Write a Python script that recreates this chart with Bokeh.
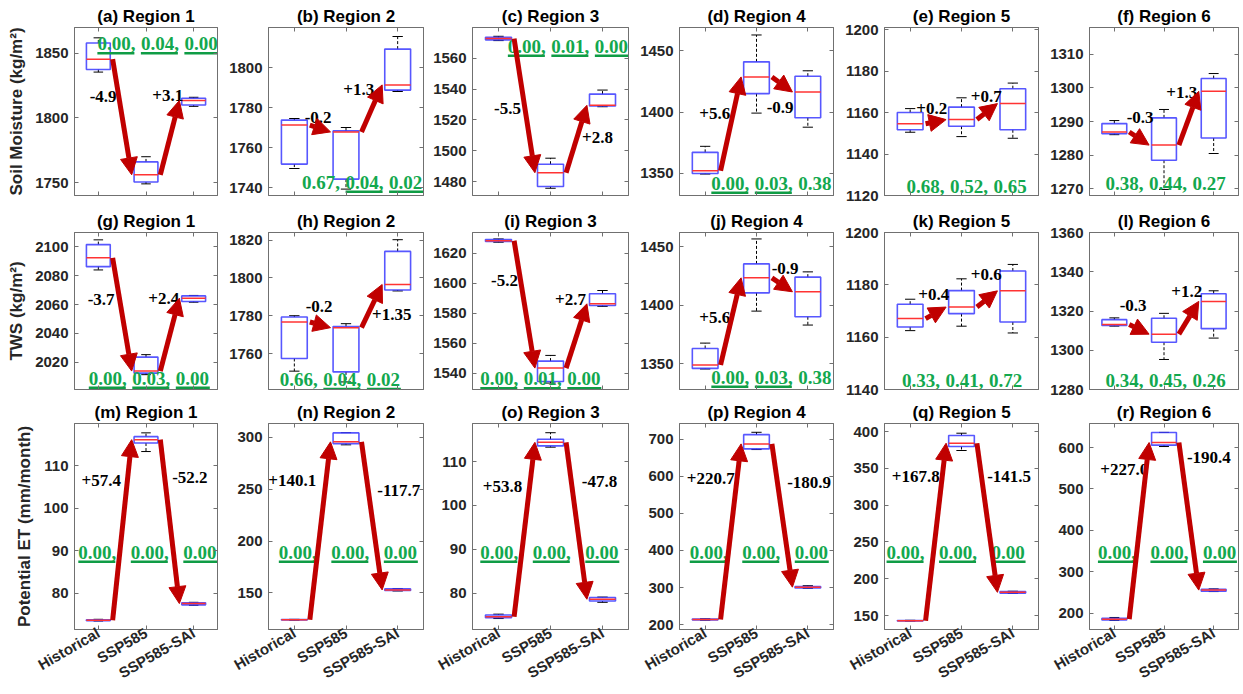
import math
from bokeh.plotting import figure
from bokeh.layouts import column, row
from bokeh.models import (ColumnDataSource, Arrow, NormalHead, FixedTicker,
                          LinearAxis, Range1d)
from bokeh.core.properties import value
from bokeh.embed import file_html
from bokeh.resources import INLINE

# ---------------- data ----------------
scenarios = ["Historical", "SSP585", "SSP585-SAI"]
regions = ["Region 1", "Region 2", "Region 3", "Region 4", "Region 5", "Region 6"]
variables = ["Soil Moisture (kg/m\u00b2)", "TWS (kg/m\u00b2)", "Potential ET (mm/month)"]

# box stats per region: [whisker low, q1, median, q3, whisker high] per scenario
sm_stats = [
    [[1835.5, 1837.5, 1845.5, 1858.0, 1862.0], [1749.0, 1750.5, 1756.0, 1766.0, 1770.0], [1809.0, 1810.0, 1813.5, 1815.3, 1816.0]],
    [[1749.5, 1751.7, 1771.2, 1773.7, 1774.5], [1739.2, 1744.2, 1767.8, 1768.3, 1770.0], [1788.0, 1788.7, 1791.3, 1809.2, 1815.5]],
    [[1571.5, 1572.0, 1572.8, 1573.6, 1574.3], [1475.7, 1476.8, 1485.8, 1491.3, 1495.2], [1528.6, 1529.1, 1529.5, 1536.8, 1539.4]],
    [[1349.5, 1350.0, 1352.2, 1367.2, 1372.1], [1399.2, 1415.1, 1428.7, 1441.0, 1462.9], [1387.7, 1395.4, 1416.4, 1429.3, 1433.7]],
    [[1150.5, 1151.7, 1154.6, 1160.0, 1161.9], [1148.4, 1153.4, 1156.6, 1162.6, 1167.1], [1147.6, 1151.7, 1164.3, 1171.5, 1174.2]],
    [[1286.1, 1286.4, 1286.9, 1289.4, 1290.3], [1269.8, 1278.5, 1283.0, 1291.1, 1293.6], [1280.5, 1285.1, 1299.0, 1302.8, 1304.3]],
]
tws_stats = [
    [[2084.0, 2086.3, 2092.4, 2101.6, 2104.9], [2011.3, 2012.4, 2013.8, 2023.5, 2025.2], [2061.6, 2062.1, 2064.4, 2066.0, 2066.3]],
    [[1750.7, 1757.4, 1776.7, 1779.3, 1780.0], [1745.0, 1750.3, 1773.7, 1774.3, 1775.8], [1793.1, 1793.6, 1796.5, 1814.0, 1820.2]],
    [[1627.5, 1628.0, 1628.5, 1629.3, 1629.7], [1533.3, 1534.4, 1543.3, 1548.0, 1551.8], [1584.6, 1585.2, 1586.3, 1593.0, 1595.2]],
    [[1345.5, 1346.0, 1348.9, 1363.0, 1367.6], [1394.9, 1410.5, 1423.3, 1435.2, 1456.5], [1383.0, 1390.1, 1411.4, 1423.9, 1428.4]],
    [[1162.5, 1163.9, 1167.1, 1172.6, 1174.5], [1164.2, 1169.0, 1171.5, 1177.8, 1182.3], [1161.6, 1165.8, 1177.7, 1185.3, 1187.8]],
    [[1312.3, 1312.6, 1313.1, 1315.6, 1316.5], [1295.3, 1304.1, 1308.2, 1316.3, 1318.8], [1306.2, 1311.0, 1324.9, 1328.8, 1330.3]],
]
pet_stats = [
    [[73.5, 73.6, 73.7, 73.8, 73.9], [113.4, 115.4, 116.2, 116.9, 117.8], [77.2, 77.3, 77.6, 77.8, 77.9]],
    [[123.6, 123.8, 124.0, 124.2, 124.4], [292.9, 294.1, 295.8, 304.4, 304.7], [151.8, 152.3, 152.8, 153.8, 154.2]],
    [[74.2, 74.4, 74.6, 75.0, 75.2], [113.3, 113.6, 114.4, 115.1, 116.6], [77.9, 78.2, 78.6, 79.0, 79.1]],
    [[212.0, 213.0, 214.0, 215.0, 216.0], [671.8, 673.7, 687.1, 712.0, 718.3], [298.0, 299.0, 301.0, 303.0, 305.0]],
    [[142.5, 142.7, 143.0, 143.3, 143.5], [374.3, 379.7, 384.2, 394.7, 397.8], [180.0, 180.5, 181.5, 182.5, 183.0]],
    [[183.0, 184.0, 186.0, 188.0, 190.0], [602.4, 605.8, 612.1, 636.2, 636.5], [252.5, 253.5, 256.0, 258.0, 259.0]],
]

# percent changes (Historical->SSP585, SSP585->SSP585-SAI)
sm_changes = [["-4.9", "+3.1"], ["-0.2", "+1.3"], ["-5.5", "+2.8"], ["+5.6", "-0.9"], ["+0.2", "+0.7"], ["-0.3", "+1.3"]]
tws_changes = [["-3.7", "+2.4"], ["-0.2", "+1.35"], ["-5.2", "+2.7"], ["+5.6", "-0.9"], ["+0.4", "+0.6"], ["-0.3", "+1.2"]]
pet_changes = [["+57.4", "-52.2"], ["+140.1", "-117.7"], ["+53.8", "-47.8"], ["+220.7", "-180.9"], ["+167.8", "-141.5"], ["+227.0", "-190.4"]]

# p-values
sm_pvals = [[0.00, 0.04, 0.00], [0.67, 0.04, 0.02], [0.00, 0.01, 0.00], [0.00, 0.03, 0.38], [0.68, 0.52, 0.65], [0.38, 0.44, 0.27]]
tws_pvals = [[0.00, 0.03, 0.00], [0.66, 0.04, 0.02], [0.00, 0.01, 0.00], [0.00, 0.03, 0.38], [0.33, 0.41, 0.72], [0.34, 0.45, 0.26]]
pet_pvals = [[0.00, 0.00, 0.00]] * 6

# axis limits and ticks
sm_ylim = [(1740, 1870), (1736, 1820), (1471, 1580), (1332, 1469), (1120, 1201), (1268, 1318)]
sm_ticks = [[1750, 1800, 1850], [1740, 1760, 1780, 1800], [1480, 1500, 1520, 1540, 1560],
            [1350, 1400, 1450], [1120, 1140, 1160, 1180, 1200], [1270, 1280, 1290, 1300, 1310]]
tws_ylim = [(2001, 2110), (1741, 1824), (1529, 1634), (1328, 1462), (1140, 1200), (1280, 1360)]
tws_ticks = [[2020, 2040, 2060, 2080, 2100], [1760, 1780, 1800, 1820], [1540, 1560, 1580, 1600, 1620],
             [1350, 1400, 1450], [1140, 1160, 1180, 1200], [1280, 1300, 1320, 1340, 1360]]
pet_ylim = [(71.5, 120), (114.6, 313.5), (71.7, 118.7), (187, 742), (131, 411), (161, 658)]
pet_ticks = [[80, 90, 100, 110], [150, 200, 250, 300], [80, 90, 100, 110],
             [200, 300, 400, 500, 600, 700], [150, 200, 250, 300, 350, 400], [200, 300, 400, 500, 600]]

# ---------------- layout / style ----------------
COL_W = [222, 206, 205, 205, 205, 200]
COL_BL = [74, 46, 44, 46, 46, 46]
COL_BR = [5, 5, 5, 5, 5, 5]
ROW_H = [204, 194, 295]
ROW_BT = [27, 28, 25]
ROW_BB = [9, 9, 64]

# label offsets (px, relative to arrow midpoints; +dy = down)
ANN_OFF = [
    [[(-19, -20), (-2, -42)], [(-2, -11), (-13, -19)], [(-17, 3), (21, -2)], [(-16, -10), (-2, 23)], [(-4, -13), (-1, -15)], [(1, -21), (-7, -26)]],
    [[(-21, -15), (-6, -36)], [(-1, -18), (20, 8)], [(-20, -24), (-6, -36)], [(-16, -4), (3, -16)], [(-2, -18), (-1, -24)], [(-6, -24), (-2, -26)]],
    [[(-21, -49), (20, -44)], [(-28, -50), (27, -25)], [(-22, -43), (23, -39)], [(-20, -53), (27, -33)], [(-20, -55), (22, -41)], [(-15, -61), (20, -59)]],
]
P_X = [[0.98, 1.15, 1.18, 1.12, 0.93, 0.82],
       [0.80, 0.72, 0.65, 1.12, 0.84, 0.82],
       [0.58, 0.70, 0.65, 0.70, 0.54, 0.67]]
P_FRAC = [[0.903, 0.079, 0.889, 0.073, 0.055, 0.070],
          [0.072, 0.064, 0.068, 0.078, 0.057, 0.057],
          [0.375] * 6]
P_SPACING = [43.5, 43.5, 52.5]

GREEN = "#13a84e"
GREEN_LINE = "#0f9c45"
ARROW_RED = "#c00000"
BOX_BLUE = "#3a3aff"
MED_RED = "#ff3333"
FRAME = "#707070"
TICK_TXT = "#262626"
SANS = "Liberation Sans"
SERIF = "Liberation Serif"

all_stats = [sm_stats, tws_stats, pet_stats]
all_changes = [sm_changes, tws_changes, pet_changes]
all_pvals = [sm_pvals, tws_pvals, pet_pvals]
all_ylim = [sm_ylim, tws_ylim, pet_ylim]
all_ticks = [sm_ticks, tws_ticks, pet_ticks]


def hide_labels(ax):
    ax.major_label_text_font_size = "0px"
    ax.major_label_text_color = None
    ax.major_label_standoff = 0


def mirror_axis(ticks):
    ax = LinearAxis(ticker=FixedTicker(ticks=ticks), major_tick_in=4, major_tick_out=0,
                    axis_line_color=FRAME, major_tick_line_color=FRAME, minor_tick_line_color=None)
    hide_labels(ax)
    return ax


def make_panel(r, c):
    stats = all_stats[r][c]
    ymin, ymax = all_ylim[r][c]
    fw = COL_W[c] - COL_BL[c] - COL_BR[c]
    fh = ROW_H[r] - ROW_BT[r] - ROW_BB[r]
    ppx = fw / 3.0
    ppy = fh / (ymax - ymin)

    p = figure(width=COL_W[c], height=ROW_H[r],
               x_range=Range1d(0.5, 3.5), y_range=Range1d(ymin, ymax),
               output_backend="svg", toolbar_location=None,
               min_border_left=COL_BL[c], min_border_right=COL_BR[c],
               min_border_top=ROW_BT[r], min_border_bottom=ROW_BB[r])
    letter = "abcdefghijklmnopqr"[r * 6 + c]
    p.title.text = f"({letter}) {regions[c]}"
    p.title.align = "center"
    p.title.text_font = SANS
    p.title.text_font_style = "bold"
    p.title.text_font_size = "17px"
    p.title.text_color = "#000000"
    p.title.standoff = 3
    p.title.offset = 0

    p.xgrid.visible = False
    p.ygrid.visible = False
    p.outline_line_color = FRAME
    p.outline_line_width = 1
    p.background_fill_color = "white"
    p.border_fill_color = "white"

    # axes
    p.xaxis.ticker = FixedTicker(ticks=[1, 2, 3])
    p.yaxis.ticker = FixedTicker(ticks=all_ticks[r][c])
    for ax in (p.xaxis[0], p.yaxis[0]):
        ax.axis_line_color = FRAME
        ax.major_tick_line_color = FRAME
        ax.major_tick_in = 4
        ax.major_tick_out = 0
        ax.minor_tick_line_color = None
        ax.major_label_text_font = SANS
        ax.major_label_text_font_style = "bold"
        ax.major_label_text_color = TICK_TXT
    p.yaxis.major_label_text_font_size = "15px"
    p.yaxis.major_label_standoff = 6
    if r == 2:
        p.xaxis.major_label_overrides = {1: scenarios[0], 2: scenarios[1], 3: scenarios[2]}
        p.xaxis.major_label_orientation = math.radians(30)
        p.xaxis.major_label_text_font_size = "15px"
        p.xaxis.major_label_standoff = 2
    else:
        hide_labels(p.xaxis[0])
    if c == 0:
        p.yaxis.axis_label = variables[r]
        p.yaxis.axis_label_text_font = SANS
        p.yaxis.axis_label_text_font_style = "bold"
        p.yaxis.axis_label_text_font_size = "17px"
        p.yaxis.axis_label_text_color = TICK_TXT
        p.yaxis.axis_label_standoff = 6

    # mirrored ticks on the right and top
    p.add_layout(mirror_axis(all_ticks[r][c]), "right")
    p.add_layout(mirror_axis([1, 2, 3]), "above")

    xs = [1, 2, 3]
    lows = [s[0] for s in stats]
    q1s = [s[1] for s in stats]
    meds = [s[2] for s in stats]
    q3s = [s[3] for s in stats]
    highs = [s[4] for s in stats]
    src = ColumnDataSource(dict(
        x=xs, left=[x - 0.25 for x in xs], right=[x + 0.25 for x in xs],
        cl=[x - 0.1 for x in xs], cr=[x + 0.1 for x in xs],
        low=lows, q1=q1s, med=meds, q3=q3s, high=highs))
    # whiskers (dashed) and caps
    p.segment(x0="x", y0="q3", x1="x", y1="high", source=src, line_color="black", line_width=1, line_dash="3 2")
    p.segment(x0="x", y0="q1", x1="x", y1="low", source=src, line_color="black", line_width=1, line_dash="3 2")
    p.segment(x0="cl", y0="high", x1="cr", y1="high", source=src, line_color="black", line_width=1)
    p.segment(x0="cl", y0="low", x1="cr", y1="low", source=src, line_color="black", line_width=1)
    # boxes
    p.quad(left="left", right="right", bottom="q1", top="q3", source=src,
           fill_color=None, line_color=BOX_BLUE, line_width=1.6, line_alpha=0.85)
    p.segment(x0="left", y0="med", x1="right", y1="med", source=src, line_color=MED_RED, line_width=1.5)

    # arrows between medians
    asrc = ColumnDataSource(dict(x0=[1.3, 2.3], y0=[meds[0], meds[1]],
                                 x1=[1.7, 2.7], y1=[meds[1], meds[2]]))
    p.add_layout(Arrow(x_start="x0", y_start="y0", x_end="x1", y_end="y1", source=asrc,
                       line_color=ARROW_RED, line_width=5,
                       end=NormalHead(size=17, fill_color=ARROW_RED, line_color=ARROW_RED, line_width=1)))

    # change labels
    tx, ty = [], []
    for k in range(2):
        mx = 1.5 + k
        my = (meds[k] + meds[k + 1]) / 2.0
        dx, dy = ANN_OFF[r][c][k]
        tx.append(mx + dx / ppx)
        ty.append(my - dy / ppy)
    p.text(x=tx, y=ty, text=all_changes[r][c], text_font=value(SERIF), text_font_style="bold",
           text_font_size="17px", text_color="black", text_align="center", text_baseline="middle")

    # p-values
    pv = all_pvals[r][c]
    py = ymin + P_FRAC[r][c] * (ymax - ymin)
    pxs, ptxt, ux0, ux1, uy = [], [], [], [], []
    for k in range(3):
        x0 = P_X[r][c] + k * P_SPACING[r] / ppx
        s = f"{pv[k]:.2f}" + ("," if k < 2 else "")
        pxs.append(x0)
        ptxt.append(s)
        if pv[k] < 0.05:
            w = 37 if k < 2 else 34
            ux0.append(x0)
            ux1.append(x0 + w / ppx)
            uy.append(py - 9.5 / ppy)
    p.text(x=pxs, y=[py] * 3, text=ptxt, text_font=value(SERIF), text_font_style="bold",
           text_font_size="19px", text_color=GREEN, text_align="left", text_baseline="middle")
    if ux0:
        p.segment(x0=ux0, y0=uy, x1=ux1, y1=uy, line_color=GREEN_LINE, line_width=2.5)
    return p


rows = []
for r in range(3):
    rows.append(row(*[make_panel(r, c) for c in range(6)], spacing=0))
layout = column(*rows, spacing=0)

open("out.html", "w").write(file_html(layout, INLINE))
